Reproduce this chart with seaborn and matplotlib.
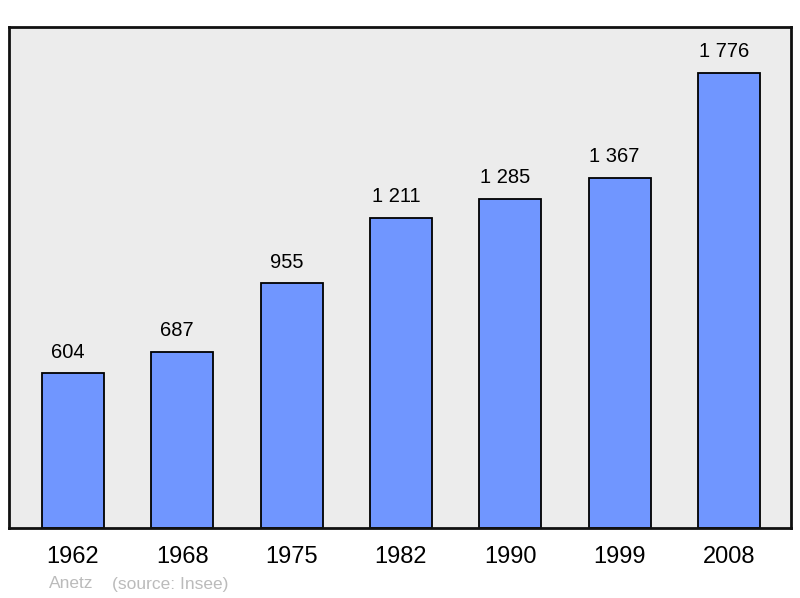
import numpy as np
import pandas as pd
import seaborn as sns
import matplotlib.pyplot as plt

years = ["1962", "1968", "1975", "1982", "1990", "1999", "2008"]
population = [604, 687, 955, 1211, 1285, 1367, 1776]
labels = ["604", "687", "955", "1 211", "1 285", "1 367", "1 776"]

df = pd.DataFrame({"annee": years, "pop": population})

sns.set_theme(style="white")
plt.rcParams['font.family'] = ['Liberation Sans', 'DejaVu Sans']

fig = plt.figure(figsize=(8, 5.98), dpi=100)
ax = fig.add_axes([9 / 800, 1 - 528 / 598, 782 / 800, 501 / 598])
ax.set_facecolor("#ececec")

sns.barplot(data=df, x="annee", y="pop", color="#7096ff", saturation=1,
            width=0.567, edgecolor="black", linewidth=1.3, ax=ax)

# les etiquettes sont un peu decalees a gauche dans l'original
for i, (v, lab) in enumerate(zip(population, labels)):
    ax.text(i - 0.046, v + 45, lab, ha="center", va="bottom", fontsize=14.5, color="black")

ax.set_xlim(-0.585, 6.567)
ax.set_ylim(0, 1955)
ax.set_yticks([])
ax.set_xlabel("")
ax.set_ylabel("")
ax.tick_params(axis="x", length=0, labelsize=17, pad=13, labelcolor="black")
for s in ax.spines.values():
    s.set_linewidth(2)
    s.set_color("#111111")

fig.text(49 / 800, 1 - 584 / 598, "Anetz", fontsize=12.5, color="#bbbbbb", va="center")
fig.text(112 / 800, 1 - 584 / 598, "(source: Insee)", fontsize=12.5, color="#bbbbbb", va="center")

fig.savefig("out.png", dpi=100)
